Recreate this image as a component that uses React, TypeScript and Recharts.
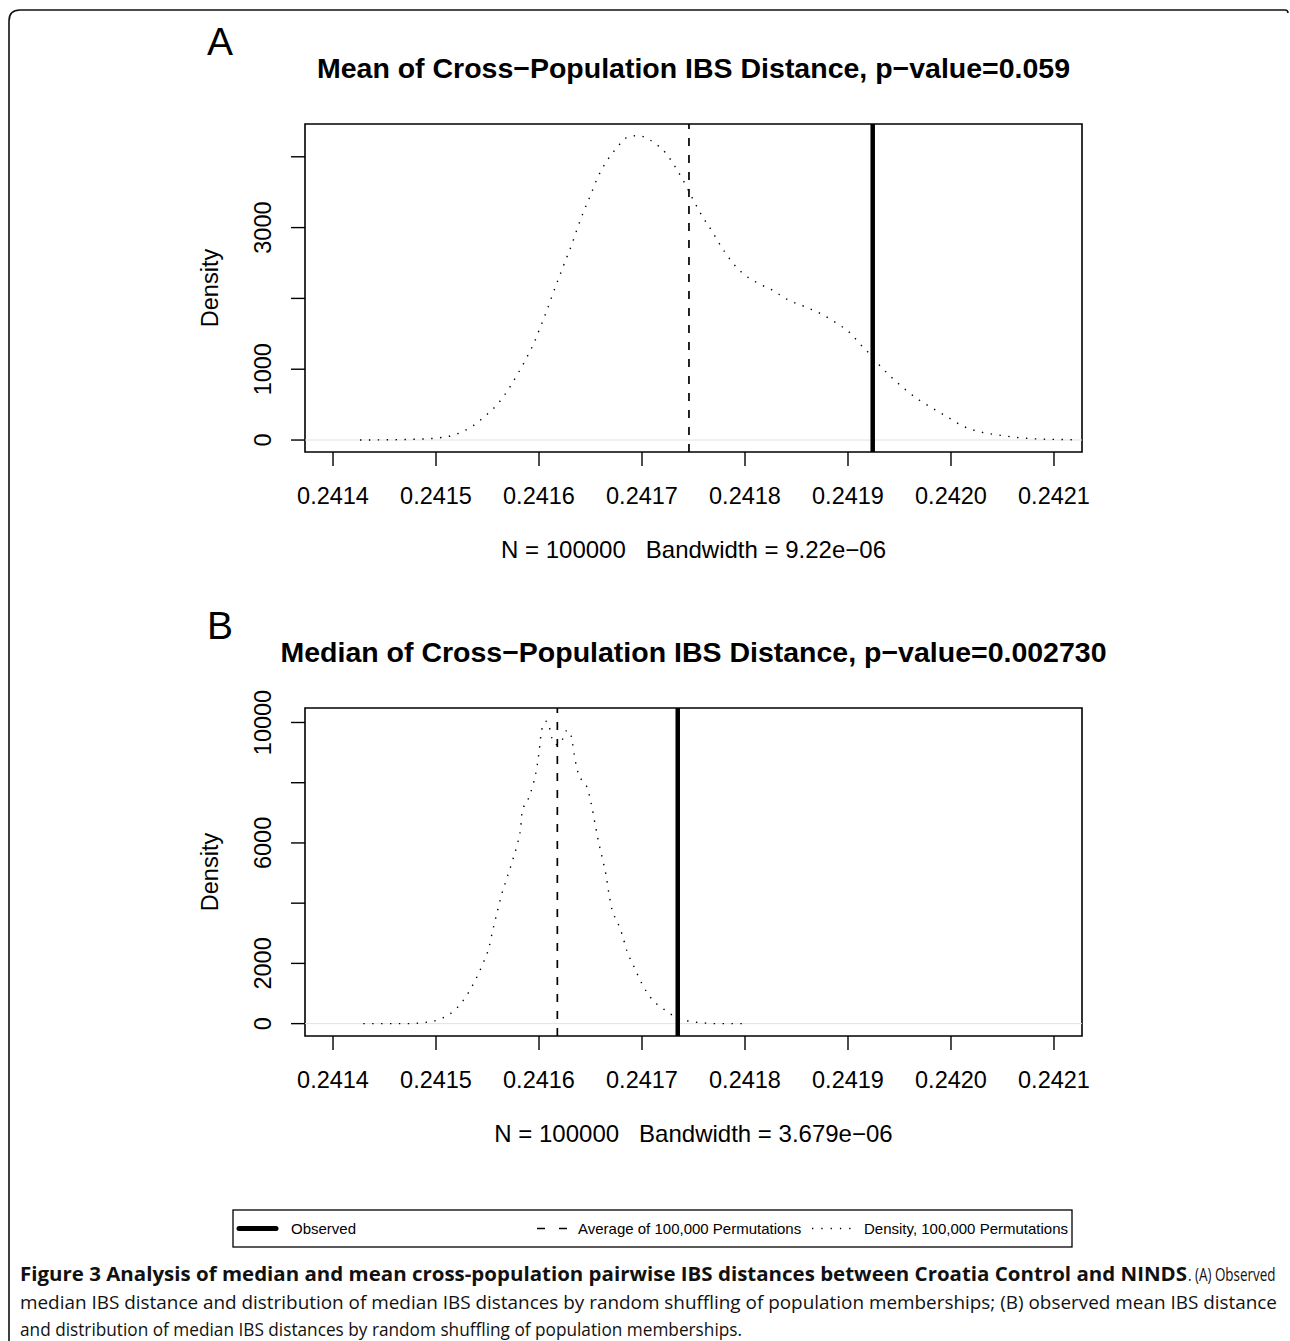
import React from 'react';
import { ComposedChart, Line, XAxis, YAxis, ReferenceLine, ReferenceArea } from 'recharts';

// x ticks shared by both panels
const xTicks = [0.2414, 0.2415, 0.2416, 0.2417, 0.2418, 0.2419, 0.242, 0.2421];
const xDomain = [0.2413728, 0.2421272];

// panel A: mean IBS distance permutation density
const meanDensityX = [
  0.2414262, 0.241478, 0.2415039, 0.2415201, 0.2415356, 0.2415485, 0.2415609, 0.2415709,
  0.2415796, 0.2415877, 0.2415954, 0.2416017, 0.2416078, 0.2416136, 0.2416197, 0.2416259,
  0.241632, 0.2416376, 0.2416437, 0.2416502, 0.2416566, 0.2416648, 0.2416745, 0.2416871,
  0.2416958, 0.2417117, 0.241724, 0.2417337, 0.2417424, 0.2417498, 0.2417583, 0.2417677,
  0.2417764, 0.2417861, 0.2417974, 0.2418117, 0.2418269, 0.2418415, 0.2418573, 0.2418728,
  0.2418877, 0.2419013, 0.2419133, 0.2419191, 0.2419304, 0.2419427, 0.2419551, 0.2419689,
  0.2419835, 0.2419981, 0.2420129, 0.2420291, 0.2420459, 0.2420631, 0.2420799, 0.2420971,
  0.2421226,
];
const meanDensityY = [
  0, 10, 33, 85, 198, 349, 527, 730,
  942, 1154, 1380, 1610, 1836, 2072, 2307, 2542,
  2768, 3004, 3239, 3465, 3696, 3917, 4110, 4284,
  4298, 4199, 4035, 3823, 3602, 3390, 3164, 2956,
  2744, 2538, 2359, 2222, 2114, 1982, 1888, 1789,
  1662, 1521, 1332, 1247, 1059, 880, 720, 565,
  438, 311, 188, 113, 71, 38, 18, 10,
  4,
];
const meanYTicks = [0, 1000, 2000, 3000, 4000];
const meanYLabels = [0, 1000, 3000];
const meanYDomain = [-169, 4463];

// panel B: median IBS distance permutation density
const medianDensityX = [
  0.2414294, 0.2414721, 0.2414893, 0.2415055, 0.2415197, 0.2415301, 0.2415385, 0.2415456,
  0.2415515, 0.2415553, 0.2415592, 0.2415634, 0.2415686, 0.2415738, 0.2415786, 0.2415822,
  0.2415838, 0.2415881, 0.2415935, 0.2415974, 0.2416, 0.2416019, 0.2416036, 0.2416075,
  0.2416107, 0.2416126, 0.2416172, 0.241623, 0.2416262, 0.2416301, 0.241632, 0.2416347,
  0.2416385, 0.2416427, 0.2416473, 0.2416512, 0.2416544, 0.2416576, 0.2416615, 0.2416651,
  0.2416677, 0.2416709, 0.2416741, 0.2416777, 0.2416806, 0.2416854, 0.2416922, 0.2416997,
  0.2417085, 0.2417211, 0.2417282, 0.2417434, 0.2417609, 0.2417692, 0.2418039,
];
const medianDensityY = [
  0, 0, 40, 170, 500, 950, 1470, 2000,
  2540, 3130, 3680, 4250, 4810, 5360, 5920, 6510,
  7080, 7350, 7850, 8410, 9000, 9590, 9880, 10040,
  9760, 9470, 9260, 9450, 9720, 9700, 9410, 8830,
  8270, 8040, 7790, 7220, 6640, 6070, 5490, 4930,
  4360, 3780, 3500, 3250, 2970, 2410, 1890, 1340,
  860, 480, 310, 100, 20, 0, 0,
];
const medianYTicks = [0, 2000, 4000, 6000, 8000, 10000];
const medianYLabels = [0, 2000, 6000, 10000];
const medianYDomain = [-411, 10481];

const observed = [0.241924, 0.2417347];
const permutationAverage = [0.2417456, 0.2416178];
const panelLetters = ['A', 'B'];
const panelTitles = [
  'Mean of Cross\u2212Population IBS Distance, p\u2212value=0.059',
  'Median of Cross\u2212Population IBS Distance, p\u2212value=0.002730',
];
const panelSubtitles = [
  'N = 100000   Bandwidth = 9.22e\u221206',
  'N = 100000   Bandwidth = 3.679e\u221206',
];

const legendLabels = ['Observed', 'Average of 100,000 Permutations', 'Density, 100,000 Permutations'];

const captionBold = 'Figure 3 Analysis of median and mean cross-population pairwise IBS distances between Croatia Control and NINDS';
const captionLines = [
  '. (A) Observed',
  'median IBS distance and distribution of median IBS distances by random shuffling of population memberships; (B) observed mean IBS distance',
  'and distribution of median IBS distances by random shuffling of population memberships.',
];

const FONT = '"Liberation Sans", Arial, Helvetica, sans-serif';
const CAPTION_FONT = '"Open Sans", "Noto Sans", sans-serif';

const YTick = ({ y, payload, labels }: any) => {
  if (!labels.includes(payload.value)) return <g />;
  return (
    <text x={271} y={y} transform={`rotate(-90, 271, ${y})`} textAnchor="middle" fontSize={23.5} fontFamily={FONT} fill="#000">
      {payload.value}
    </text>
  );
};

const XTick = ({ x, payload }: any) => (
  <text x={x} y={503.5} textAnchor="middle" fontSize={23.5} fontFamily={FONT} fill="#000">
    {payload.value.toFixed(4)}
  </text>
);

function DensityPanel({ index, densX, densY, yTicks, yLabels, yDomain }: any) {
  const data = densX.map((x: number, i: number) => ({ x, d: densY[i] }));
  return (
    <ComposedChart width={1290} height={600} data={data} margin={{ top: 124, right: 208, left: 205, bottom: 88 }}>
      <XAxis
        type="number"
        dataKey="x"
        domain={xDomain}
        allowDataOverflow
        ticks={xTicks}
        interval={0}
        axisLine={false}
        tickLine={{ stroke: '#000', strokeWidth: 1.4 }}
        tickSize={14}
        height={60}
        tick={(p: any) => <XTick {...p} />}
      />
      <YAxis
        type="number"
        domain={yDomain}
        allowDataOverflow
        ticks={yTicks}
        interval={0}
        axisLine={false}
        tickLine={{ stroke: '#000', strokeWidth: 1.4 }}
        tickSize={14}
        width={100}
        tick={(p: any) => <YTick {...p} labels={yLabels} />}
      />
      <ReferenceLine y={0} stroke="#e2e2e2" strokeWidth={1} />
      <Line
        type="monotone"
        dataKey="d"
        stroke="#000"
        strokeWidth={1.4}
        strokeDasharray="1.4 7.5"
        dot={false}
        activeDot={false}
        isAnimationActive={false}
      />
      <ReferenceLine x={permutationAverage[index]} stroke="#000" strokeWidth={1.7} strokeDasharray="8 9" />
      <ReferenceLine x={observed[index]} stroke="#000" strokeWidth={4.5} />
      <ReferenceArea
        x1={xDomain[0]}
        x2={xDomain[1]}
        y1={yDomain[0]}
        y2={yDomain[1]}
        fill="none"
        fillOpacity={0}
        stroke="#000"
        strokeWidth={1.6}
        ifOverflow="visible"
      />
    </ComposedChart>
  );
}

export default function App() {
  const panelTop = [0, 584];
  return (
    <div style={{ position: 'relative', width: 1290, height: 1341, background: '#fff', overflow: 'hidden' }}>
      <style>{'body{margin:0}'}</style>
      {panelTop.map((top, i) => (
        <div key={i} style={{ position: 'absolute', left: 0, top }}>
          <DensityPanel
            index={i}
            densX={i === 0 ? meanDensityX : medianDensityX}
            densY={i === 0 ? meanDensityY : medianDensityY}
            yTicks={i === 0 ? meanYTicks : medianYTicks}
            yLabels={i === 0 ? meanYLabels : medianYLabels}
            yDomain={i === 0 ? meanYDomain : medianYDomain}
          />
        </div>
      ))}
      <svg width={1290} height={1341} style={{ position: 'absolute', left: 0, top: 0, pointerEvents: 'none' }}>
        <path d="M 9 1341 L 9 21 Q 9 10 20 10 L 1285 10 Q 1288 10 1288 13" fill="none" stroke="#111" strokeWidth={1.6} />
        {panelTop.map((top, i) => (
          <g key={i} fontFamily={FONT} fill="#000">
            <text x={207} y={55 + top} fontSize={39}>{panelLetters[i]}</text>
            <text x={693.5} y={78 + top} fontSize={28.5} fontWeight={700} textAnchor="middle">{panelTitles[i]}</text>
            <text
              x={218}
              y={288 + top}
              fontSize={23.5}
              textAnchor="middle"
              transform={`rotate(-90, 218, ${288 + top})`}
            >
              Density
            </text>
            <text x={693.5} y={557.5 + top} fontSize={24} textAnchor="middle" style={{ whiteSpace: 'pre' }}>
              {panelSubtitles[i]}
            </text>
          </g>
        ))}
        <g fontFamily={FONT} fontSize={15} fill="#000">
          <rect x={233} y={1210} width={839} height={37} fill="none" stroke="#000" strokeWidth={1.3} />
          <line x1={239} x2={276} y1={1228.5} y2={1228.5} stroke="#000" strokeWidth={5} strokeLinecap="round" />
          <text x={291} y={1233.5}>{legendLabels[0]}</text>
          <line x1={537} x2={567} y1={1228.5} y2={1228.5} stroke="#000" strokeWidth={1.5} strokeDasharray="8 14" />
          <text x={578} y={1233.5}>{legendLabels[1]}</text>
          <line x1={812} x2={852} y1={1228.5} y2={1228.5} stroke="#000" strokeWidth={1.3} strokeDasharray="1.3 8" />
          <text x={864} y={1233.5}>{legendLabels[2]}</text>
        </g>
        <g fontFamily={CAPTION_FONT} fontSize={19} fill="#111">
          <text x={20} y={1281} fontWeight={700} textLength={1167} lengthAdjust="spacingAndGlyphs">{captionBold}</text>
          <text x={0} y={0} transform="translate(1188, 1281) scale(0.7, 1)" textLength={125} lengthAdjust="spacingAndGlyphs">
            {captionLines[0]}
          </text>
          <text x={20} y={1309} textLength={1257} lengthAdjust="spacingAndGlyphs">{captionLines[1]}</text>
          <text x={20} y={1336} textLength={722} lengthAdjust="spacingAndGlyphs">{captionLines[2]}</text>
        </g>
      </svg>
    </div>
  );
}
